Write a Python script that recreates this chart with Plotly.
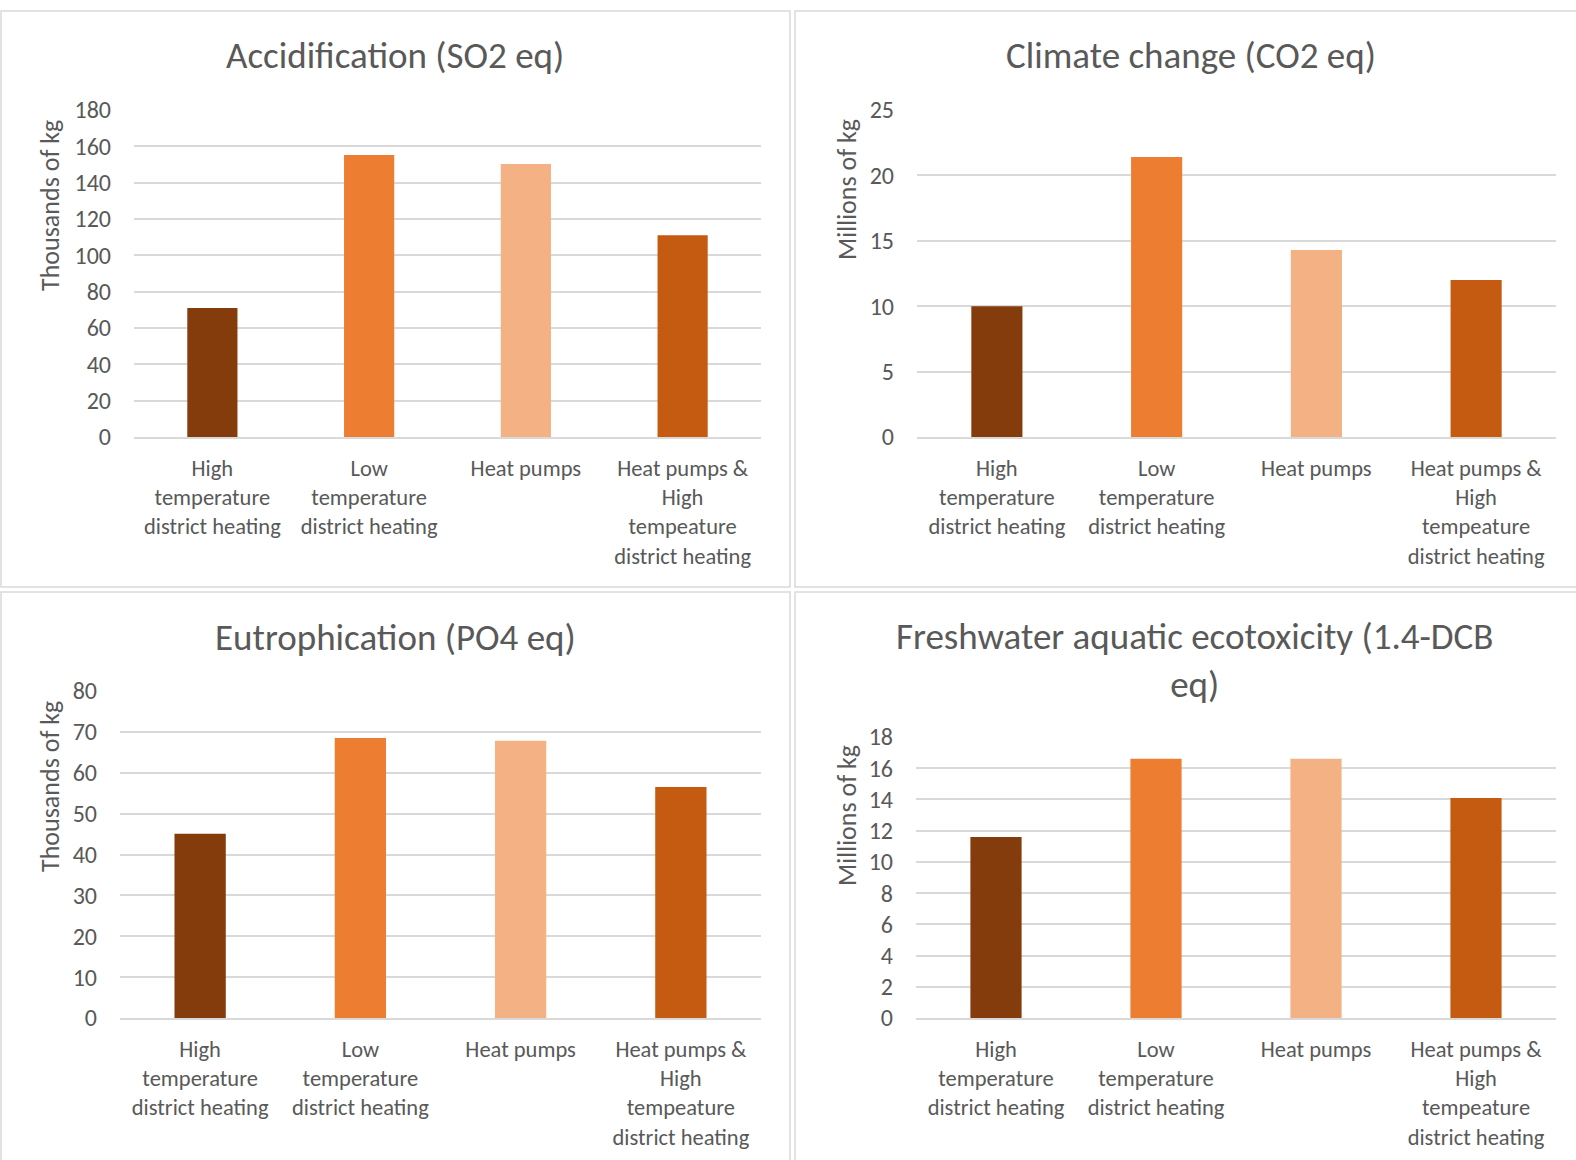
import plotly.graph_objects as go

W, H = 1576, 1160

categories = [
    "High<br>temperature<br>district heating",
    "Low<br>temperature<br>district heating",
    "Heat pumps",
    "Heat pumps &<br>High<br>tempeature<br>district heating",
]
bar_colors = ["#843C0C", "#ED7D31", "#F4B183", "#C55A11"]

acid_values = [71, 155.2, 150.3, 111]          # Thousands of kg SO2 eq
climate_values = [10.0, 21.4, 14.3, 12.0]      # Millions of kg CO2 eq
eutro_values = [45.1, 68.5, 67.8, 56.5]        # Thousands of kg PO4 eq
fresh_values = [11.6, 16.6, 16.6, 14.1]        # Millions of kg 1.4-DCB eq

titles = [
    "Accidification (SO2 eq)",
    "Climate change (CO2 eq)",
    "Eutrophication (PO4 eq)",
    "Freshwater aquatic ecotoxicity (1.4-DCB<br>eq)",
]
y_titles = ["Thousands of kg", "Millions of kg", "Thousands of kg", "Millions of kg"]
y_ranges = [(0, 180), (0, 25), (0, 80), (0, 18)]
y_dticks = [20, 5, 10, 2]

FONT = "Carlito, Lato, sans-serif"
TXT = "#595959"
GRID = "#D9D9D9"

# plot areas in pixels: x0, x1, ytop, ybottom
areas = [
    (134, 761, 110, 437),
    (917, 1556, 110, 437),
    (120, 761, 691, 1018),
    (916, 1556, 737, 1018),
]
title_pos = [(395, 55), (1191, 55), (395, 637), (1194, 660)]
ytitle_pos = [(50, 206), (847, 190), (50, 787), (847, 816)]

series = [acid_values, climate_values, eutro_values, fresh_values]

fig = go.Figure()
for i, vals in enumerate(series):
    n = "" if i == 0 else str(i + 1)
    fig.add_trace(go.Bar(
        x=categories, y=vals, marker=dict(color=bar_colors, line=dict(width=0)),
        xaxis="x" + n, yaxis="y" + n, showlegend=False,
    ))
    x0, x1, yt, yb = areas[i]
    fig.update_layout(**{
        "xaxis" + n: dict(
            domain=[x0 / W, x1 / W], anchor="y" + n, automargin=False,
            showline=True, linecolor=GRID, linewidth=1.5,
            showgrid=False, ticks="", tickfont=dict(family=FONT, size=22.5, color=TXT),
            ticklabelstandoff=10, fixedrange=True,
        ),
        "yaxis" + n: dict(
            domain=[1 - yb / H, 1 - yt / H], anchor="x" + n, automargin=False,
            range=list(y_ranges[i]), dtick=y_dticks[i], showgrid=True,
            gridcolor=GRID, gridwidth=1.5, zeroline=False, showline=False,
            ticks="", tickfont=dict(family=FONT, size=24, color=TXT),
            ticklabelstandoff=22, fixedrange=True,
        ),
    })
    fig.add_annotation(
        x=title_pos[i][0] / W, y=1 - title_pos[i][1] / H, xref="paper", yref="paper",
        text=titles[i], showarrow=False, xanchor="center", yanchor="middle",
        font=dict(family=FONT, size=37, color=TXT),
    )
    fig.add_annotation(
        x=ytitle_pos[i][0] / W, y=1 - ytitle_pos[i][1] / H, xref="paper", yref="paper",
        text=y_titles[i], showarrow=False, textangle=-90, xanchor="center", yanchor="middle",
        font=dict(family=FONT, size=26, color=TXT),
    )

# panel borders
panels = [(1, 11, 790, 587), (795, 11, 1580, 587), (1, 592, 790, 1165), (795, 592, 1580, 1165)]
for (a, b, c, d) in panels:
    fig.add_shape(type="rect", xref="paper", yref="paper",
                  x0=a / W, x1=c / W, y0=1 - b / H, y1=1 - d / H,
                  line=dict(color=GRID, width=1.5), layer="below")

fig.update_layout(
    width=W, height=H, margin=dict(l=0, r=0, t=0, b=0, autoexpand=False),
    paper_bgcolor="white", plot_bgcolor="white",
    bargap=0.68, font=dict(family=FONT, color=TXT),
)

fig.write_html(
    "out.html",
    config={"displayModeBar": False},
    post_script="document.body.style.margin='0';document.body.style.overflow='hidden';",
)
